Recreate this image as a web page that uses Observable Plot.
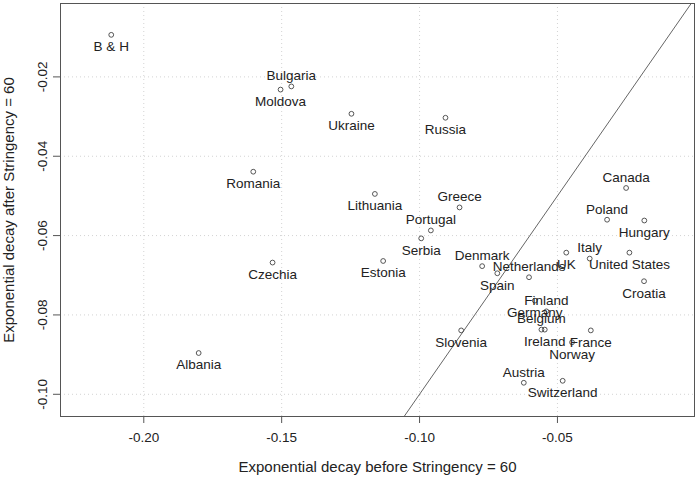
<!DOCTYPE html>
<html>
<head>
<meta charset="utf-8">
<script src="https://cdn.jsdelivr.net/npm/d3@7"></script>
<script src="https://cdn.jsdelivr.net/npm/@observablehq/plot@0.6"></script>
<style>
  html, body { margin: 0; padding: 0; background: #fff; }
  svg { display: block; }
</style>
</head>
<body>
<div id="chart"></div>
<script>
const countries = ["B & H","Bulgaria","Moldova","Ukraine","Russia","Romania","Lithuania","Greece","Portugal","Serbia","Estonia","Czechia","Albania","Canada","Poland","Hungary","Denmark","Netherlands","Spain","UK","Italy","United States","Croatia","Finland","Germany","Belgium","Ireland","France","Norway","Slovenia","Austria","Switzerland"];
const decayBefore = [-0.2118,-0.1465,-0.1504,-0.1247,-0.0906,-0.1603,-0.1162,-0.0855,-0.0959,-0.0994,-0.1132,-0.1533,-0.1801,-0.0251,-0.0320,-0.0185,-0.0773,-0.0603,-0.0718,-0.0468,-0.0383,-0.0239,-0.0186,-0.0540,-0.0582,-0.0558,-0.0546,-0.0379,-0.0447,-0.0849,-0.0622,-0.0481];
const decayAfter = [-0.0094,-0.0224,-0.0232,-0.0293,-0.0303,-0.0439,-0.0495,-0.0529,-0.0587,-0.0607,-0.0664,-0.0668,-0.0896,-0.0480,-0.0560,-0.0562,-0.0677,-0.0705,-0.0695,-0.0643,-0.0658,-0.0643,-0.0715,-0.0791,-0.0764,-0.0837,-0.0837,-0.0839,-0.0869,-0.0839,-0.0971,-0.0966];
const labelAbove = ["Bulgaria","Greece","Portugal","Canada","Poland","Denmark","Netherlands","Italy","Finland","Belgium","Austria"];
const xTicks = [-0.20,-0.15,-0.10,-0.05];
const yTicks = [-0.10,-0.08,-0.06,-0.04,-0.02];
const xTitle = "Exponential decay before Stringency = 60";
const yTitle = "Exponential decay after Stringency = 60";

const xDomain = [-0.2302, -0.0003];
const yDomain = [-0.1056, -0.0015];

const data = countries.map((c, i) => ({country: c, x: decayBefore[i], y: decayAfter[i], above: labelAbove.includes(c)}));
const fmt = d => d.toFixed(2);
const font = "Liberation Sans, Arial, Helvetica, sans-serif";

const chart = Plot.plot({
  width: 697,
  height: 477,
  marginLeft: 60,
  marginRight: 3,
  marginTop: 3,
  marginBottom: 61,
  style: {fontFamily: font, fontSize: "13.5px", background: "#fff"},
  x: {domain: xDomain, axis: null},
  y: {domain: yDomain, axis: null},
  marks: [
    Plot.gridX(xTicks, {stroke: "#d3d3d3", strokeOpacity: 1, strokeDasharray: "1,3"}),
    Plot.gridY(yTicks, {stroke: "#d3d3d3", strokeOpacity: 1, strokeDasharray: "1,3"}),
    Plot.link([0], {x1: () => xDomain[0], y1: () => xDomain[0], x2: () => 0, y2: () => 0, stroke: "#666", strokeWidth: 1, clip: true}),
    Plot.frame({stroke: "#555", strokeWidth: 1}),
    Plot.axisX(xTicks, {tickSize: 7, tickFormat: () => "", stroke: "#555", label: null}),
    Plot.axisY(yTicks, {tickSize: 7, tickFormat: () => "", stroke: "#555", label: null}),
    Plot.text(xTicks, {x: d => d, text: fmt, frameAnchor: "bottom", dy: 21, lineAnchor: "middle", fill: "#222", fontSize: 13.5}),
    Plot.text(yTicks, {y: d => d, text: fmt, frameAnchor: "left", dx: -18, rotate: -90, lineAnchor: "middle", textAnchor: "middle", fill: "#222", fontSize: 13.5}),
    Plot.text([xTitle], {text: d => d, frameAnchor: "bottom", dy: 51, lineAnchor: "middle", fill: "#222", fontSize: 15}),
    Plot.text([yTitle], {text: d => d, frameAnchor: "left", dx: -51, rotate: -90, lineAnchor: "middle", textAnchor: "middle", fill: "#222", fontSize: 15}),
    Plot.dot(data, {x: "x", y: "y", r: 2.4, stroke: "#444", strokeWidth: 0.9, fill: "none"}),
    Plot.text(data.filter(d => d.above), {x: "x", y: "y", text: "country", dy: -10.5, lineAnchor: "middle", fill: "#222", fontSize: 13.5}),
    Plot.text(data.filter(d => !d.above), {x: "x", y: "y", text: "country", dy: 12, lineAnchor: "middle", fill: "#222", fontSize: 13.5})
  ]
});
document.getElementById("chart").appendChild(chart);
</script>
</body>
</html>
